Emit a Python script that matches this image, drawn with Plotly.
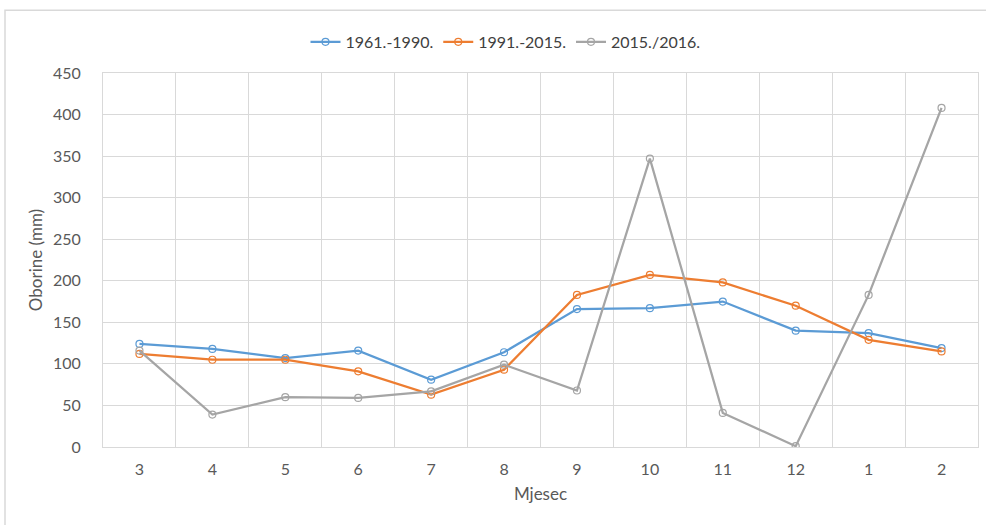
import plotly.graph_objects as go

months = ["3", "4", "5", "6", "7", "8", "9", "10", "11", "12", "1", "2"]
s1961_1990 = [124, 118, 107, 116, 81, 114, 166, 167, 175, 140, 137, 119]
s1991_2015 = [112, 105, 105, 91, 63, 93, 183, 207, 198, 170, 129, 115]
s2015_2016 = [116, 39, 60, 59, 67, 99, 68, 347, 41, 1, 183, 408]

series = [
    ("1961.-1990.", s1961_1990, "#5B9BD5"),
    ("1991.-2015.", s1991_2015, "#ED7D31"),
    ("2015./2016.", s2015_2016, "#A5A5A5"),
]

FONT = "Lato, sans-serif"

fig = go.Figure()
for name, vals, color in series:
    fig.add_trace(go.Scatter(
        x=months, y=vals, name=name, mode="lines+markers",
        line=dict(color=color, width=2.25),
        marker=dict(symbol="circle-open", size=7, color=color, line=dict(width=1.2)),
    ))

fig.update_layout(
    width=986, height=525,
    margin=dict(l=103, r=8, t=73, b=78),
    paper_bgcolor="white", plot_bgcolor="white",
    font=dict(family=FONT, size=16, color="#595959"),
    showlegend=True,
    legend=dict(orientation="h", x=0.46, xanchor="center", y=1.083, yanchor="middle",
                font=dict(size=16, color="#404040"), itemwidth=30, tracegroupgap=0),
    xaxis=dict(type="category", tickson="boundaries", range=[-0.5, 11.5],
               showgrid=True, gridcolor="#D9D9D9",
               gridwidth=1, showline=True, linecolor="#D9D9D9", ticks="", zeroline=False,
               title=dict(text="Mjesec", font=dict(size=17, color="#595959"), standoff=10),
               ticklabelstandoff=8, mirror=True),
    yaxis=dict(range=[0, 450], dtick=50, showgrid=True, gridcolor="#D9D9D9", gridwidth=1,
               zeroline=False, showline=True, linecolor="#D9D9D9", mirror=True, ticks="",
               ticklabelstandoff=18,
               title=dict(text="Oborine (mm)", font=dict(size=17, color="#595959"), standoff=6)),
    shapes=[dict(type="rect", xref="paper", yref="paper", x0=-0.112, y0=-0.4, x1=1.05, y1=1.168,
                 line=dict(color="#D9D9D9", width=1.5), fillcolor="rgba(0,0,0,0)", layer="below")],
)

fig.write_html("out.html", config={"displayModeBar": False},
               post_script="document.body.style.margin='0';")
